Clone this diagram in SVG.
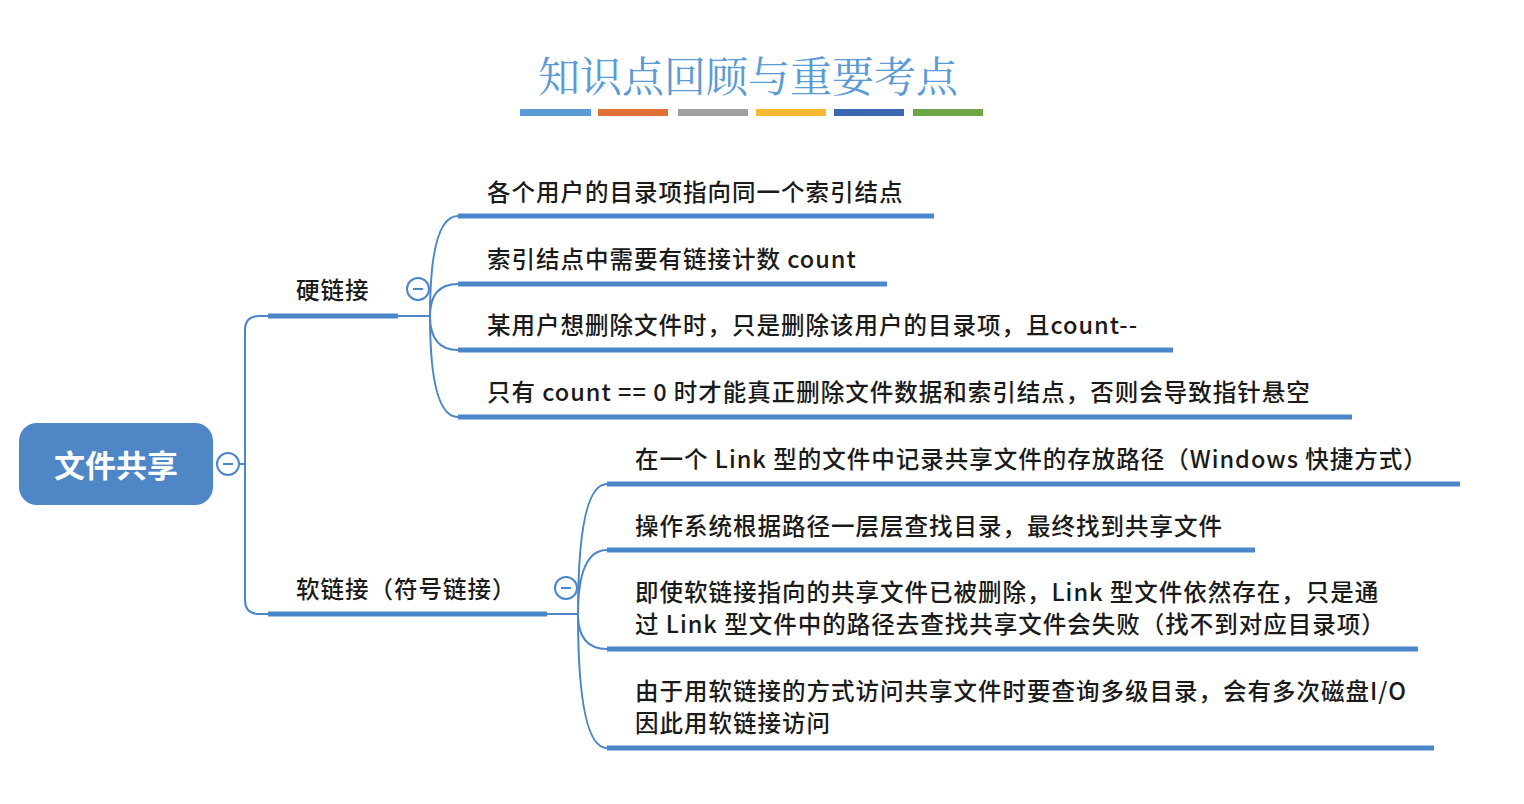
<svg xmlns="http://www.w3.org/2000/svg" width="1524" height="804" viewBox="0 0 1524 804">
<style>
text{font-family:"Noto Sans CJK SC","Noto Sans",sans-serif;fill:#1a1a1a}
.t{font-size:23.5px;font-weight:500;letter-spacing:1px}
.ul{stroke:#4a86c8;stroke-width:5;fill:none}
.c{stroke:#4a86c8;stroke-width:2;fill:none}
.col{stroke:#4a86c8;stroke-width:2;fill:#fff}
.mn{stroke:#4a86c8;stroke-width:2}
</style>
<rect width="1524" height="804" fill="#fff"/>
<text x="748" y="92" text-anchor="middle" style="font-size:42px;fill:#5b9bd5;font-family:'Noto Serif CJK SC','Noto Sans CJK SC',serif">知识点回顾与重要考点</text>
<g>
<rect x="520" y="109" width="71" height="7" fill="#5b9bd5"/>
<rect x="598" y="109" width="70" height="7" fill="#e07035"/>
<rect x="678" y="109" width="70" height="7" fill="#a0a0a0"/>
<rect x="756" y="109" width="70" height="7" fill="#f6b830"/>
<rect x="834" y="109" width="70" height="7" fill="#3a67b0"/>
<rect x="913" y="109" width="70" height="7" fill="#6fa645"/>
</g>
<g id="connectors">
<path class="c" d="M240 464 H245 M245 330 Q245 316 259 316 H268 M245 330 V600 Q245 614 259 614 H268"/>
<path class="c" d="M398 316 H430 M430 316 Q430 216 458 216 M430 316 Q430 284 458 284 M430 316 Q430 350 458 350 M430 316 Q430 417 458 417"/>
<path class="c" d="M547 614 H578 M578 614 Q578 484 607 484 M578 614 Q578 550 607 550 M578 614 Q578 649 607 649 M578 614 Q578 748 607 748"/>
</g>
<g id="root">
<rect x="19" y="423" width="194" height="82" rx="18" fill="#4f86c6"/>
<text x="116" y="477" text-anchor="middle" style="font-size:31px;font-weight:bold;fill:#fff">文件共享</text>
<circle class="col" cx="228" cy="464" r="11"/><line class="mn" x1="223" y1="464" x2="233" y2="464"/>
</g>
<g id="hard">
<text class="t" x="296" y="299">硬链接</text>
<line class="ul" x1="268" y1="316" x2="398" y2="316"/>
<circle class="col" cx="418" cy="289" r="11"/><line class="mn" x1="413" y1="289" x2="423" y2="289"/>
</g>
<g id="h1"><text class="t" x="487" y="201">各个用户的目录项指向同一个索引结点</text><line class="ul" x1="458" y1="216" x2="934" y2="216"/></g>
<g id="h2"><text class="t" x="487" y="268">索引结点中需要有链接计数 count</text><line class="ul" x1="458" y1="284" x2="887" y2="284"/></g>
<g id="h3"><text class="t" x="487" y="334">某用户想删除文件时，只是删除该用户的目录项，且count--</text><line class="ul" x1="458" y1="350" x2="1173" y2="350"/></g>
<g id="h4"><text class="t" x="487" y="401">只有 count == 0 时才能真正删除文件数据和索引结点，否则会导致指针悬空</text><line class="ul" x1="458" y1="417" x2="1352" y2="417"/></g>
<g id="soft">
<text class="t" x="296" y="598">软链接（符号链接）</text>
<line class="ul" x1="268" y1="614" x2="547" y2="614"/>
<circle class="col" cx="566" cy="588" r="11"/><line class="mn" x1="561" y1="588" x2="571" y2="588"/>
</g>
<g id="s1"><text class="t" x="635" y="468">在一个 Link 型的文件中记录共享文件的存放路径（Windows 快捷方式）</text><line class="ul" x1="607" y1="484" x2="1460" y2="484"/></g>
<g id="s2"><text class="t" x="635" y="535">操作系统根据路径一层层查找目录，最终找到共享文件</text><line class="ul" x1="607" y1="550" x2="1255" y2="550"/></g>
<g id="s3"><text class="t" x="635" y="601">即使软链接指向的共享文件已被删除，Link 型文件依然存在，只是通</text><text class="t" x="635" y="633">过 Link 型文件中的路径去查找共享文件会失败（找不到对应目录项）</text><line class="ul" x1="607" y1="649" x2="1418" y2="649"/></g>
<g id="s4"><text class="t" x="635" y="700">由于用软链接的方式访问共享文件时要查询多级目录，会有多次磁盘I/O</text><text class="t" x="635" y="732">因此用软链接访问</text><line class="ul" x1="607" y1="748" x2="1434" y2="748"/></g>
</svg>
